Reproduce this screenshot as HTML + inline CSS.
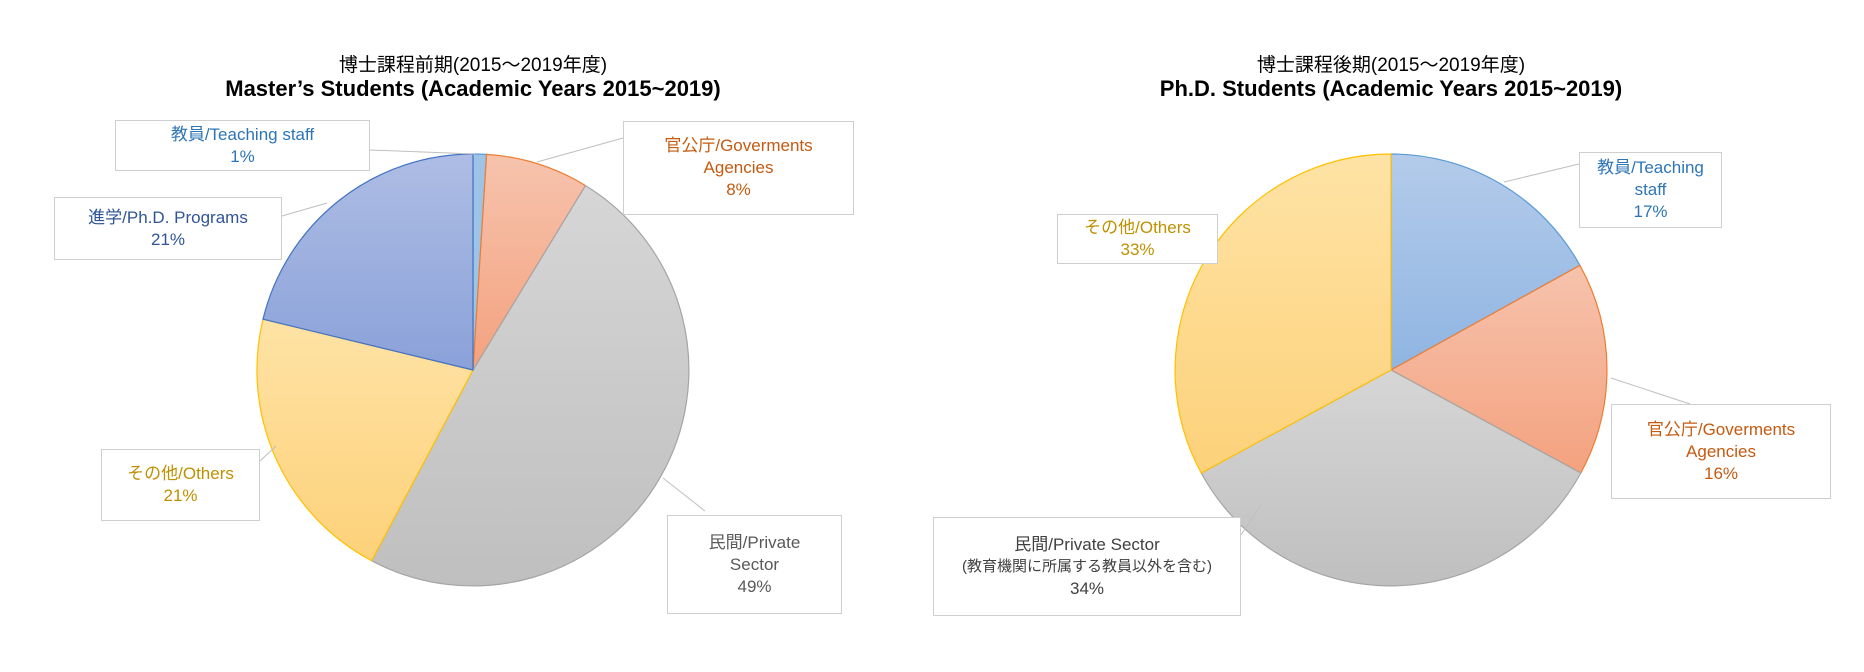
<!DOCTYPE html>
<html><head><meta charset="utf-8"><style>
body{margin:0;width:1864px;height:672px;background:#fff;overflow:hidden;position:relative;font-family:"Liberation Sans","Noto Sans CJK JP",sans-serif}
.t{position:absolute;text-align:center;color:#000;white-space:nowrap}
.t1{font-size:19px}
.t2{font-size:22px;font-weight:bold}
.b{position:absolute;box-sizing:border-box;border:1px solid #cfcfcf;background:#fff;text-align:center;font-size:17px;line-height:22px;display:flex;flex-direction:column;justify-content:center;align-items:center;white-space:nowrap}
</style></head><body>
<svg width="1864" height="672" style="position:absolute;left:0;top:0">
<defs>
<linearGradient id="gb" x1="0" y1="0" x2="0" y2="1"><stop offset="0" stop-color="#aebde4"/><stop offset="1" stop-color="#8aa1d9"/></linearGradient>
<linearGradient id="go" x1="0" y1="0" x2="0" y2="1"><stop offset="0" stop-color="#f6c3ad"/><stop offset="1" stop-color="#f4a27f"/></linearGradient>
<linearGradient id="gg" x1="0" y1="0" x2="0" y2="1"><stop offset="0" stop-color="#d6d6d6"/><stop offset="1" stop-color="#bfbfbf"/></linearGradient>
<linearGradient id="gy" x1="0" y1="0" x2="0" y2="1"><stop offset="0" stop-color="#fee3a5"/><stop offset="1" stop-color="#fdd17a"/></linearGradient>
<linearGradient id="gl" x1="0" y1="0" x2="0" y2="1"><stop offset="0" stop-color="#b4cbea"/><stop offset="1" stop-color="#8fb5e2"/></linearGradient>
</defs>
<g stroke-width="1.2">
<path d="M473 370 L473 154 A216 216 0 0 1 486.6 154.4Z" fill="#9dc3e6" stroke="#5b9bd5"/>
<path d="M473 370 L486.6 154.4 A216 216 0 0 1 585.5 185.6Z" fill="url(#go)" stroke="#ed7d31"/>
<path d="M473 370 L585.5 185.6 A216 216 0 0 1 371.6 560.7Z" fill="url(#gg)" stroke="#a5a5a5"/>
<path d="M473 370 L371.6 560.7 A216 216 0 0 1 263 319.2Z" fill="url(#gy)" stroke="#ffc000"/>
<path d="M473 370 L263 319.2 A216 216 0 0 1 473 154Z" fill="url(#gb)" stroke="#4472c4"/>

<path d="M1391 370 L1391 154 A216 216 0 0 1 1579.9 265.3Z" fill="url(#gl)" stroke="#5b9bd5"/>
<path d="M1391 370 L1579.9 265.3 A216 216 0 0 1 1580.8 473Z" fill="url(#go)" stroke="#ed7d31"/>
<path d="M1391 370 L1580.8 473 A216 216 0 0 1 1201.2 473Z" fill="url(#gg)" stroke="#a5a5a5"/>
<path d="M1391 370 L1201.2 473 A216 216 0 0 1 1391 154Z" fill="url(#gy)" stroke="#ffc000"/>
</g>
<g stroke="#bfbfbf" fill="none" stroke-width="1">
<polyline points="370,150 475,154"/>
<polyline points="537,162 623,138"/>
<polyline points="327,203 282,216"/>
<polyline points="276,446 260,461"/>
<polyline points="663,478 705,511"/>
<polyline points="1504,182 1579,164"/>
<polyline points="1611,378 1690,404"/>
<polyline points="1261,505 1241,535"/>
<polyline points="1209,252 1218,258"/>
</g>
</svg>
<div class="t t1" style="left:273px;width:400px;top:50px">博士課程前期(2015～2019年度)</div>
<div class="t t2" style="left:173px;width:600px;top:76px">Master’s Students (Academic Years 2015~2019)</div>
<div class="t t1" style="left:1191px;width:400px;top:50px">博士課程後期(2015～2019年度)</div>
<div class="t t2" style="left:1091px;width:600px;top:76px">Ph.D. Students (Academic Years 2015~2019)</div>

<div class="b" style="left:115px;top:120px;width:255px;height:51px;color:#2e75b6"><div>教員/Teaching staff</div><div>1%</div></div>
<div class="b" style="left:623px;top:121px;width:231px;height:94px;color:#c55a11"><div>官公庁/Goverments</div><div>Agencies</div><div>8%</div></div>
<div class="b" style="left:54px;top:197px;width:228px;height:63px;color:#2f5597"><div>進学/Ph.D. Programs</div><div>21%</div></div>
<div class="b" style="left:101px;top:449px;width:159px;height:72px;color:#bf9000"><div>その他/Others</div><div>21%</div></div>
<div class="b" style="left:667px;top:515px;width:175px;height:99px;color:#595959"><div>民間/Private</div><div>Sector</div><div>49%</div></div>

<div class="b" style="left:1579px;top:152px;width:143px;height:76px;color:#2e75b6"><div>教員/Teaching</div><div>staff</div><div>17%</div></div>
<div class="b" style="left:1611px;top:404px;width:220px;height:95px;color:#c55a11"><div>官公庁/Goverments</div><div>Agencies</div><div>16%</div></div>
<div class="b" style="left:933px;top:517px;width:308px;height:99px;color:#404040"><div>民間/Private Sector</div><div style="font-size:15px">(教育機関に所属する教員以外を含む)</div><div>34%</div></div>
<div class="b" style="left:1057px;top:214px;width:161px;height:50px;color:#bf9000"><div>その他/Others</div><div>33%</div></div>
</body></html>
